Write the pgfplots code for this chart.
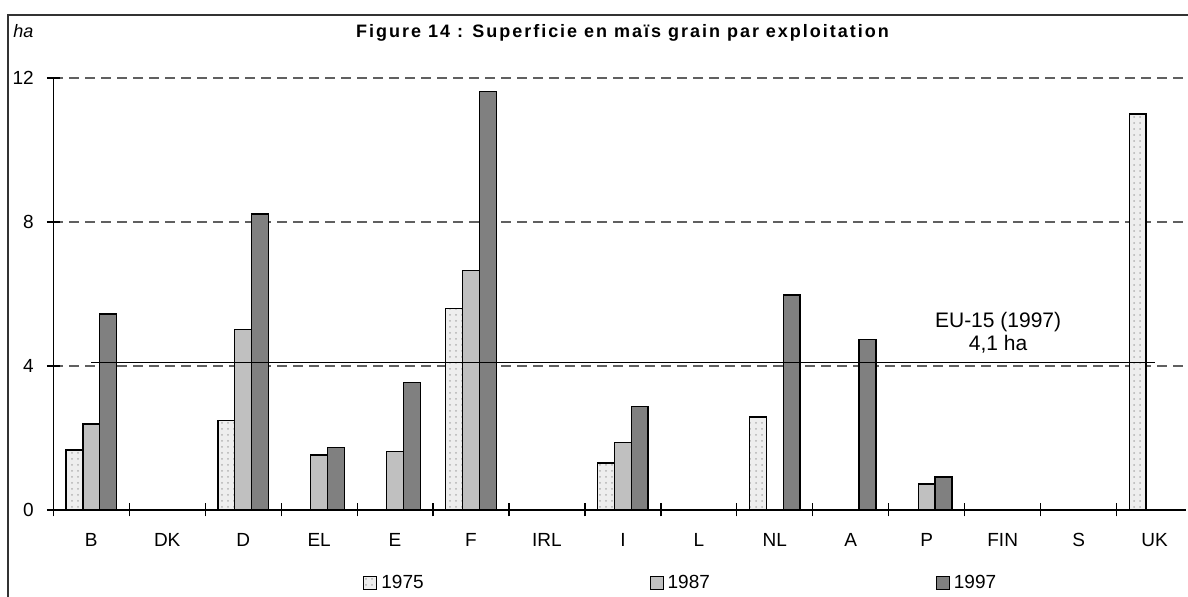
\documentclass[border=0pt]{standalone}
\usepackage{fontspec}
\setmainfont{Liberation Sans}
\newfontfamily\titlefont[LetterSpace=11]{Liberation Sans}
\usepackage{pgfplots}
\pgfplotsset{compat=1.18}
\usetikzlibrary{patterns}
\definecolor{c75}{HTML}{EEEEEE}
\definecolor{c87}{HTML}{C0C0C0}
\definecolor{c97}{HTML}{808080}
\definecolor{gridc}{HTML}{606060}

\begin{document}
\begin{tikzpicture}[x=0.5pt,y=0.5pt]
\begin{axis}[
  at={(26.65pt,43.5pt)}, anchor=south west,
  scale only axis, width=566.35pt, height=216pt,
  xmin=-0.5, xmax=14.414, ymin=0, ymax=12,
  axis x line=bottom, axis y line=left,
  axis line style={-, black, line width=0.6pt},
  xtick={-0.5,0.5,...,13.5},
  xticklabels={},
  extra x ticks={0,...,14},
  extra x tick labels={B,DK,D,EL,E,F,IRL,I,L,NL,A,P,FIN,S,UK},
  extra x tick style={major tick length=0pt},
  ytick={0,4,8,12},
  tick align=center, major tick length=6.5pt,
  tick style={black, line width=0.6pt},
  ymajorgrids,
  major grid style={gridc, line width=0.6pt, dash pattern=on 5pt off 3pt},
  ticklabel style={font=\fontsize{9.5}{11}\selectfont},
  /pgf/number format/assume math mode=true,
  xticklabel style={yshift=-8pt},
  yticklabel style={xshift=-3pt},
  legend image code/.code={\draw[#1, line width=0.5pt] (0pt,-3.25pt) rectangle (6.5pt,3.25pt);},
  legend style={at={(0.2734,-0.170)}, anchor=west, draw=none, fill=none,
    inner sep=0pt, font=\fontsize{9.5}{11}\selectfont,
    /tikz/every even column/.append style={column sep=111pt}},
  legend columns=3,
  clip=false,
]
\addplot[ybar, bar width=0.222, bar shift=-0.222, draw=black, line width=0.75pt,
  fill=c75, postaction={pattern=dots, pattern color=gray!60}]
  coordinates {(0,1.67) (2,2.48) (5,5.60) (7,1.30) (9,2.59) (14,11.0)};
\addlegendentry{1975}
\addplot[ybar, bar width=0.222, bar shift=0, draw=black, line width=0.75pt,
  fill=c87]
  coordinates {(0,2.39) (2,5.02) (3,1.53) (4,1.62) (5,6.65) (7,1.87) (11,0.72)};
\addlegendentry{1987}
\addplot[ybar, bar width=0.222, bar shift=0.222, draw=black, line width=0.75pt,
  fill=c97]
  coordinates {(0,5.44) (2,8.22) (3,1.73) (4,3.54) (5,11.62) (7,2.87) (9,5.97) (10,4.74) (11,0.91)};
\addlegendentry{1997}
\addplot[sharp plot, black, line width=0.6pt, forget plot] coordinates {(0,4.1) (14,4.1)};
\node[align=center, font=\fontsize{10.5}{11.5}\selectfont] at (axis cs:11.94,4.92) {EU-15 (1997)\\4,1 ha};
\end{axis}
\node[anchor=base west, font=\itshape\fontsize{9}{10}\selectfont, inner sep=0pt] at (13,559) {ha};
\node[anchor=base, inner sep=0pt, font=\titlefont\bfseries\fontsize{9}{10}\selectfont] at (622.5,559.7) {Figure 14 : Superficie en maïs grain par exploitation};
\draw[line width=0.75pt, black!80] (8,-5) -- (8,582) -- (1195,582);
\pgfresetboundingbox
\useasboundingbox (0,0) rectangle (1188,597);
\end{tikzpicture}
\end{document}
